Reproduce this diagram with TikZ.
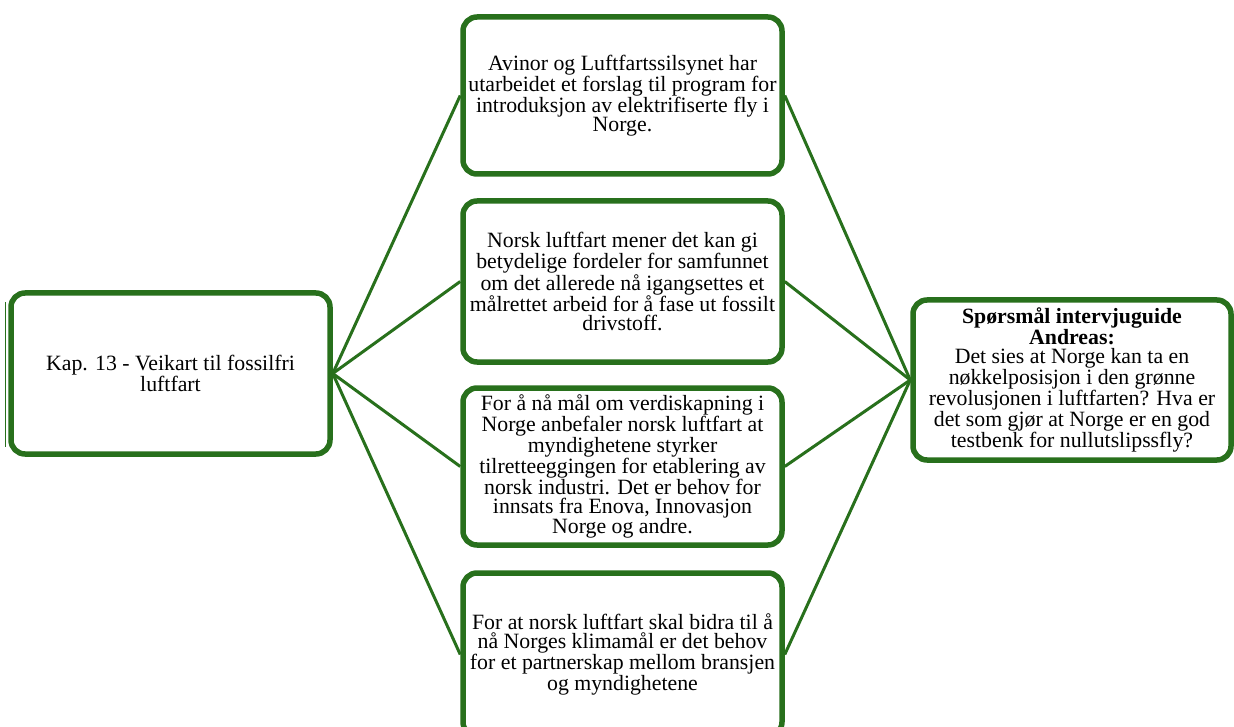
\documentclass[tikz,border=0pt]{standalone}
\usepackage{fontspec}
\setmainfont{Liberation Serif}
\usepackage{xcolor}
\definecolor{boxgreen}{RGB}{40,112,28}

\begin{document}
\begin{tikzpicture}[x=1pt, y=-1pt,
  box/.style={draw=boxgreen, line width=5.5pt, rounded corners=14pt, fill=white,
    minimum width=319pt, align=center, font=\fontsize{21.8}{19}\selectfont},
  link/.style={draw=boxgreen, line width=3pt}]
  \useasboundingbox (0,0) rectangle (1234,727);
  % chapter on the left
  \node[box, minimum height=161pt] (kap) at (170.5,373.5)
    {Kap. 13 - Veikart til fossilfri\\luftfart};
  \draw[boxgreen, line width=1pt] ([xshift=-2.5pt,yshift=-12pt]kap.north west)
    -- ([xshift=-2.5pt,yshift=10pt]kap.south west);
  % the four points in the middle
  \node[box, minimum height=157pt] (avinor) at (622.5,95.5)
    {Avinor og Luftfartssilsynet har\\utarbeidet et forslag til program for\\
     introduksjon av elektrifiserte fly i\\Norge.};
  \node[box, minimum height=161pt] (fordel) at (622.5,281.5)
    {Norsk luftfart mener det kan gi\\betydelige fordeler for samfunnet\\
     om det allerede nå igangsettes et\\målrettet arbeid for å fase ut fossilt\\drivstoff.};
  \node[box, minimum height=157pt] (verdi) at (622.5,466.5)
    {For å nå mål om verdiskapning i\\Norge anbefaler norsk luftfart at\\
     myndighetene styrker\\tilretteeggingen for etablering av\\
     norsk industri. Det er behov for\\innsats fra Enova, Innovasjon\\Norge og andre.};
  \node[box, minimum height=163pt] (klima) at (622.5,654.5)
    {For at norsk luftfart skal bidra til å\\nå Norges klimamål er det behov\\
     for et partnerskap mellom bransjen\\og myndighetene};
  % question on the right
  \node[box, minimum width=318pt, minimum height=160pt] (sporsmal) at (1072,380)
    {\textbf{Spørsmål intervjuguide}\\\textbf{Andreas:}\\Det sies at Norge kan ta en\\
     nøkkelposisjon i den grønne\\revolusjonen i luftfarten? Hva er\\
     det som gjør at Norge er en god\\testbenk for nullutslipssfly?};
  \foreach \m in {avinor,fordel,verdi,klima}{
    \draw[link] (kap.east) -- (\m.west);
    \draw[link] (\m.east) -- (sporsmal.west);
  }
\end{tikzpicture}
\end{document}
